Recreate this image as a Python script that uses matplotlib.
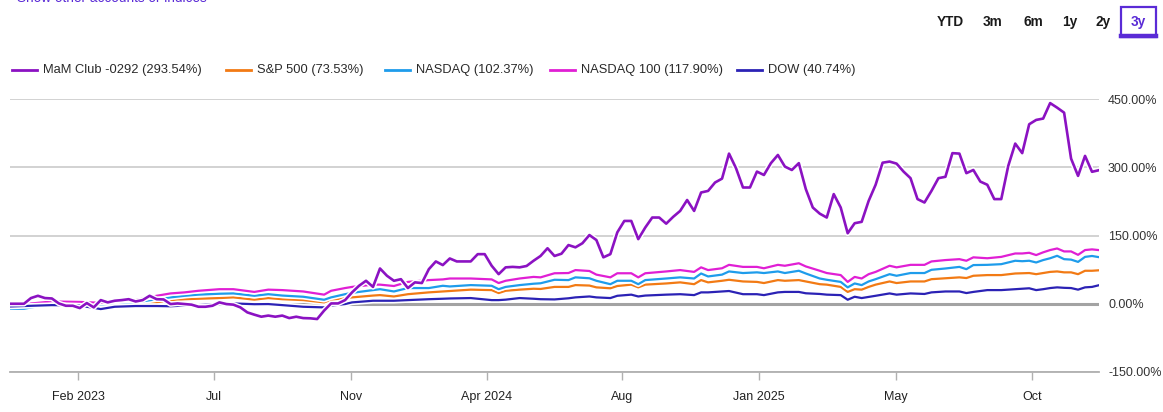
import matplotlib
matplotlib.use('Agg')
import matplotlib.pyplot as plt
from matplotlib import patheffects as pe
from matplotlib.patches import Rectangle
from matplotlib.lines import Line2D

plt.rcParams['font.family'] = ['Liberation Sans', 'DejaVu Sans']

# weekly points, index 0 .. 156
club = [0, 0, 0, 12.5, 17.5, 12.5, 11.6, 0.7, -4.4, -4.4,
        -9.5, 1.5, -8, 8, 3, 6.6, 8, 10, 5, 8,
        17.5, 10, 9.5, -0.7, 0.7, -0.7, -2, -6.6, -6.6, -4.4,
        3, -0.7, -2, -8, -19, -24, -28.5, -26, -28.5, -26,
        -31.5, -28.5, -31.5, -32, -33.6, -15, 0.7, 0.7, 8, 25,
        39.5, 50.5, 37, 77.5, 61.5, 50.5, 54, 34.5, 47, 45.5,
        76, 93, 85, 99.5, 93, 93, 93, 109, 109, 83.5,
        65, 80, 81, 80, 83, 94.5, 105, 122, 105, 110,
        129, 124, 133, 151, 140, 102, 109, 157, 182, 182,
        142, 167.5, 189.5, 189.5, 176, 191, 204, 228, 204, 244.5,
        248, 266.5, 275, 330, 298, 255.5, 255.5, 290.5, 283, 309,
        327, 301.5, 294, 309, 252, 211.5, 198, 189.5, 241, 211.5,
        155, 177, 180, 226, 261.5, 310, 312.5, 308, 290.5, 276,
        230, 222.5, 248, 276, 279, 331, 330, 287, 294, 268.5,
        261.5, 230, 230, 303, 352, 331, 394.5, 404, 407, 441,
        431, 420, 319, 281, 325, 290, 293.54]

# index series sampled at these week positions
idx_pos = [0, 2, 6, 10, 13, 15, 18, 21, 23, 25,
           27, 30, 32, 35, 37, 39, 42, 45, 46, 48,
           49, 52, 53, 55, 57, 60, 62, 63, 66, 69,
           70, 71, 73, 75, 76, 78, 80, 81, 83, 84,
           86, 87, 89, 90, 91, 94, 96, 98, 99, 100,
           102, 103, 105, 107, 108, 110, 111, 113, 114, 116,
           117, 119, 120, 121, 122, 123, 124, 126, 127, 129,
           131, 132, 134, 136, 137, 138, 140, 142, 144, 145,
           146, 147, 148, 149, 150, 151, 152, 153, 154, 155,
           156]

sp500 = [-5, -1, 3, 2, -2, 1, 3, 3, 8, 10,
         11, 12.5, 14, 9, 12.5, 10, 8, 3, 9, 12.5,
         14, 18, 19, 16, 21, 25, 27, 28, 31, 30,
         23.5, 28.5, 31, 33, 32.5, 37, 37, 41, 40, 36,
         34, 39, 42, 36, 42, 44.6, 47, 43, 52, 47,
         50.5, 52.7, 49, 48, 45.5, 52, 50.5, 52, 49, 43,
         42, 37, 26, 32, 31, 37, 42, 49, 45.5, 49,
         49, 54, 56, 58, 56.5, 61.5, 63, 63, 66.5, 67,
         67.5, 65, 67.5, 70, 71, 69, 69, 65, 72.5, 72.5,
         73.53]

nasdaq = [-11, -11, 0, 0, -2, 1, 3, 10, 14, 17.5,
          20, 22, 22.7, 17.5, 21, 18, 15.4, 8.8, 14, 21,
          24, 30, 32, 27, 34.5, 34.5, 39.5, 38, 41, 39.5,
          32, 37, 41, 44, 45, 52.7, 52, 58, 56, 50.5,
          43, 50.5, 50.5, 43, 52, 55.5, 58, 55.5, 66.5, 60,
          64, 71, 67.5, 69, 67.5, 71, 67.5, 72.5, 66.5, 55.5,
          52.7, 48, 36, 44.6, 41, 49, 54, 65, 61.5, 67.5,
          67.5, 74.6, 77.5, 81, 76, 85, 85.5, 87, 94.5, 93.5,
          94.5, 90.7, 96, 100, 105.4, 98, 97, 92, 103, 105,
          102.37]

nasdaq100 = [-2, -1, 5, 4, 2, 5, 8, 17.5, 22.7, 25,
             28.5, 32, 32, 26, 31, 30, 27, 20, 28.5, 34.5,
             37, 42, 42, 39, 48, 52, 53.5, 55.5, 55.5, 53.5,
             45.5, 50.5, 55.5, 59, 58, 67, 67.5, 74, 72, 64,
             58, 67, 67, 58, 67, 71, 74, 70, 80, 74,
             78, 85.5, 81, 81, 78, 85.5, 83.5, 89, 82, 72.5,
             67.5, 63, 48, 59, 55.5, 65, 70, 83.5, 80, 85.5,
             85.5, 93, 96, 98, 94.5, 102, 100, 103, 110.5, 110.5,
             112, 107, 113, 118, 121.5, 115, 115, 107.5, 118, 119.5,
             117.9]

dow = [-6, -5, -3, -4, -11.7, -6.6, -5, -5, -5.5, -4,
       -3, -1, 0.7, -1, -0.7, -3, -6.6, -8, -4, -0.7,
       3, 6.6, 6.6, 6.6, 8, 10, 11, 11.6, 12.5, 8,
       8, 9, 12.5, 11, 10, 9.5, 12, 14, 16, 14,
       12.5, 17.5, 20, 16, 18, 20, 21, 19, 25, 25,
       27, 28, 21, 21, 19, 25, 26, 26, 23, 21.5,
       20, 19, 8.8, 15.4, 12.5, 15, 17.5, 22.7, 20, 22.7,
       21.5, 25, 27, 27, 23.5, 26, 30, 30, 32, 33,
       34, 30, 32, 34.5, 36, 35, 34.5, 31, 36, 37,
       40.74]

legend_labels = ['MaM Club -0292 (293.54%)', 'S&P 500 (73.53%)', 'NASDAQ (102.37%)',
                 'NASDAQ 100 (117.90%)', 'DOW (40.74%)']
colors = ['#8B12C2', '#F27A14', '#1E9CEB', '#E01FD4', '#2B22B5']

tick_pos = [9.74, 29.2, 48.9, 68.3, 87.7, 107.3, 126.9, 146.4]
tick_labels = ['Feb 2023', 'Jul', 'Nov', 'Apr 2024', 'Aug', 'Jan 2025', 'May', 'Oct']
y_ticks = [-150, 0, 150, 300, 450]

ranges = ['YTD', '3m', '6m', '1y', '2y', '3y']

W, H = 1163, 412
fig = plt.figure(figsize=(W / 100, H / 100), dpi=100)
ax = fig.add_axes([10 / W, 40 / H, 1089 / W, 273 / H])

halo = [pe.Stroke(linewidth=4.0, foreground='white'), pe.Normal()]
ax.axhline(0, color='#a3a3a3', lw=2.2, zorder=1)
ax.plot(idx_pos, sp500, color=colors[1], lw=1.6, zorder=3, path_effects=halo)
ax.plot(idx_pos, nasdaq, color=colors[2], lw=1.6, zorder=4, path_effects=halo)
ax.plot(idx_pos, nasdaq100, color=colors[3], lw=1.6, zorder=5, path_effects=halo)
ax.plot(idx_pos, dow, color=colors[4], lw=1.6, zorder=6, path_effects=halo)
ax.plot(range(len(club)), club, color=colors[0], lw=1.9, zorder=7, path_effects=halo)

ax.set_xlim(0, 156)
ax.set_ylim(-150, 450)
ax.set_yticks(y_ticks)
ax.set_yticklabels([f'{v:.2f}%' for v in y_ticks])
ax.yaxis.tick_right()
ax.tick_params(axis='y', length=0, pad=6.5, labelsize=9, labelcolor='#333333')
ax.set_xticks(tick_pos)
ax.set_xticklabels(tick_labels)
ax.tick_params(axis='x', length=6, width=1, color='#b0b0b0', pad=8,
               labelsize=9, labelcolor='#222222')
ax.yaxis.grid(True, color='#cfcfcf', lw=1.3)
ax.set_axisbelow(True)
for s in ['top', 'left', 'right']:
    ax.spines[s].set_visible(False)
ax.spines['bottom'].set_color('#b0b0b0')
ax.spines['bottom'].set_linewidth(1.3)

# legend across the top
leg_seg = [12, 226, 385, 550, 737]
leg_y = 1 - 70 / H
for x0, lab, c in zip(leg_seg, legend_labels, colors):
    fig.add_artist(Line2D([x0 / W, (x0 + 25) / W], [leg_y, leg_y], color=c, lw=2.0))
    fig.text((x0 + 31) / W, leg_y, lab, fontsize=9.3, color='#2a2a2a', va='center', ha='left')

# link at the very top, cut off by the edge as in the page capture
fig.text(17 / W, 1 + 2 / H, 'Show other accounts or indices', fontsize=9.8,
         color='#5A2BD6', va='center', ha='left')

# range buttons
btn_x = [950, 993, 1033, 1070, 1103, 1138]
btn_y = 1 - 22 / H
for bx, lab in zip(btn_x, ranges):
    col = '#5A2BD6' if lab == '3y' else '#1a1a1a'
    fig.text(bx / W, btn_y, lab, fontsize=9.8, fontweight='bold', color=col,
             ha='center', va='center')
fig.add_artist(Rectangle((1121 / W, 1 - 37 / H), 35 / W, 30 / H, fill=False,
                         edgecolor='#5A2BD6', lw=1.6, transform=fig.transFigure))
fig.add_artist(Line2D([1121 / W, 1156 / W], [1 - 36 / H, 1 - 36 / H],
                      color='#5A2BD6', lw=3.2))

fig.savefig('out.png', dpi=100)
